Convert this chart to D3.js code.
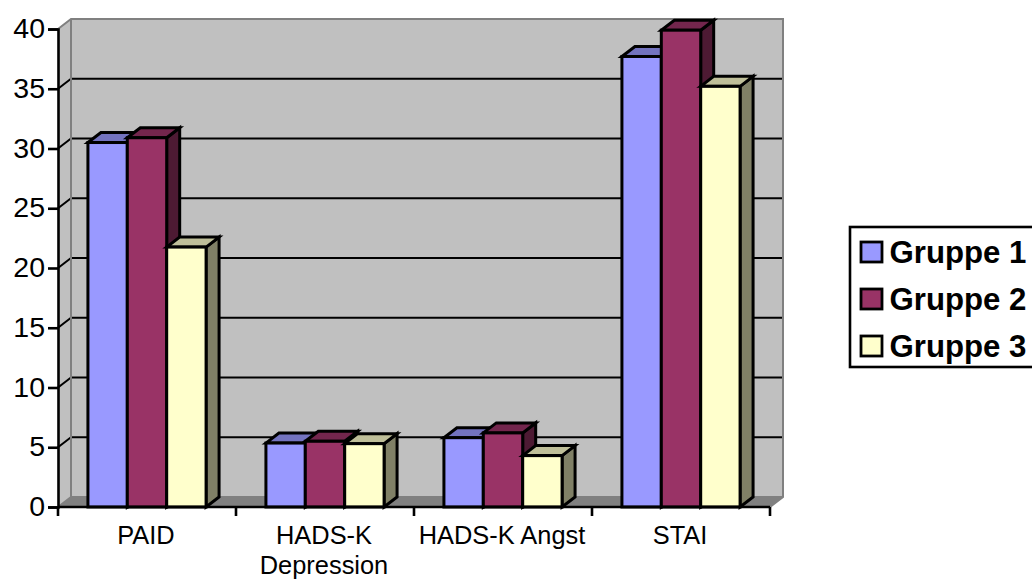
<!DOCTYPE html>
<html>
<head>
<meta charset="utf-8">
<script src="https://cdn.jsdelivr.net/npm/d3@7/dist/d3.min.js"></script>
<style>
html,body{margin:0;padding:0;background:#fff;overflow:hidden}
svg{display:block}
text{font-family:"Liberation Sans",Arial,sans-serif;fill:#000}
</style>
</head>
<body>
<svg id="chart" width="1032" height="579"></svg>
<script>
// Mean scores per questionnaire and group
const categories = ["PAID", "HADS-K Depression", "HADS-K Angst", "STAI"];
const seriesNames = ["Gruppe 1", "Gruppe 2", "Gruppe 3"];
const gruppe1 = [30.5, 5.35, 5.8, 37.7];
const gruppe2 = [30.9, 5.5, 6.2, 39.9];
const gruppe3 = [21.75, 5.3, 4.3, 35.2];
const yTicks = [0, 5, 10, 15, 20, 25, 30, 35, 40];

const faceColors = ["#9999ff", "#993366", "#ffffcc"];
const topColors = ["#7373bf", "#73264d", "#bfbf99"];
const sideColors = ["#4d4d80", "#4d1a33", "#808066"];

const svg = d3.select("#chart");
const depthX = 13, depthY = -10;

const y = d3.scaleLinear().domain([0, 40]).range([507, 29]);
const x0 = d3.scaleBand().domain(categories).range([58, 770]);
const x1 = d3.scaleBand().domain(seriesNames)
  .range([0, x0.bandwidth()]).paddingInner(0).paddingOuter(0.76);
const values = [gruppe1, gruppe2, gruppe3];
const [xL, xR] = x0.range();

const pts = a => a.map(p => p.join(",")).join(" ");

// Chart box: side wall, floor and back wall
svg.append("polygon").attr("points", pts([[xL,y(0)],[xL,y(40)],[xL+depthX,y(40)+depthY],[xL+depthX,y(0)+depthY]]))
  .attr("fill", "#c0c0c0");
svg.append("polygon").attr("points", pts([[xL+depthX,y(40)+depthY],[xR+depthX,y(40)+depthY],[xR+depthX,y(0)+depthY],[xL+depthX,y(0)+depthY]]))
  .attr("fill", "#c0c0c0");
svg.append("polygon").attr("points", pts([[xL,y(0)],[xL+depthX,y(0)+depthY],[xR+depthX,y(0)+depthY],[xR,y(0)]]))
  .attr("fill", "#808080");

// Gridlines run across the back wall and down the side wall
const grid = svg.append("g");
grid.selectAll(".back").data(yTicks.filter(t => t > 0 && t < 40)).join("line")
  .attr("x1", xL + depthX).attr("x2", xR + depthX)
  .attr("y1", d => y(d) + depthY).attr("y2", d => y(d) + depthY)
  .attr("stroke", "#000").attr("stroke-width", 2);
grid.selectAll(".side").data(yTicks.filter(t => t > 0 && t < 40)).join("line")
  .attr("x1", xL).attr("x2", xL + depthX)
  .attr("y1", d => y(d)).attr("y2", d => y(d) + depthY)
  .attr("stroke", "#000").attr("stroke-width", 2);

// Wall outlines
svg.append("path")
  .attr("d", `M${xL},${y(40)}L${xL+depthX},${y(40)+depthY}H${xR+depthX}V${y(0)+depthY}L${xR},${y(0)}M${xL+depthX},${y(40)+depthY}V${y(0)+depthY}L${xL},${y(0)}M${xL+depthX},${y(0)+depthY}H${xR+depthX}`)
  .attr("fill", "none").attr("stroke", "#808080").attr("stroke-width", 2);

// Extruded columns, back to front within each group
const bars = svg.append("g").attr("stroke", "#000").attr("stroke-width", 3).attr("stroke-linejoin", "miter");
categories.forEach((c, ci) => {
  seriesNames.forEach((s, si) => {
    const v = values[si][ci];
    const l = x0(c) + x1(s), r = l + x1.bandwidth(), t = y(v), b = y(0);
    const g = bars.append("g");
    g.append("polygon").attr("points", pts([[r,t],[r+depthX,t+depthY],[r+depthX,b+depthY],[r,b]])).attr("fill", sideColors[si]);
    g.append("polygon").attr("points", pts([[l,t],[l+depthX,t+depthY],[r+depthX,t+depthY],[r,t]])).attr("fill", topColors[si]);
    g.append("rect").attr("x", l).attr("y", t).attr("width", r - l).attr("height", b - t).attr("fill", faceColors[si]);
  });
});

// Value axis
const yAxis = d3.axisLeft(y).tickValues(yTicks).tickSize(10).tickPadding(3);
const yG = svg.append("g").attr("transform", `translate(${xL},0)`).call(yAxis);
yG.selectAll("path").attr("stroke", "#000").attr("stroke-width", 2.6);
yG.selectAll("line").attr("stroke", "#000").attr("stroke-width", 2.6);
yG.selectAll("text").style("font-size", "28.5px").attr("dy", "0.3em");

// Category axis with ticks between groups
const tickXs = d3.range(0, categories.length + 1).map(i => xL + i * x0.bandwidth());
const xLine = svg.append("g").attr("stroke", "#000").attr("stroke-width", 2.6);
xLine.append("line").attr("x1", xL).attr("x2", xR).attr("y1", y(0)).attr("y2", y(0));
xLine.selectAll(".t").data(tickXs).join("line")
  .attr("x1", d => d).attr("x2", d => d).attr("y1", y(0)).attr("y2", y(0) + 9);

const catLabels = svg.append("g").attr("text-anchor", "middle").style("font-size", "25.4px");
categories.forEach(c => {
  const cx = x0(c) + x0.bandwidth() / 2 - 1;
  const lines = c === "HADS-K Depression" ? c.split(" ") : [c];
  const t = catLabels.append("text").attr("x", cx).attr("y", 544);
  lines.forEach((ln, i) => t.append("tspan").attr("x", cx).attr("dy", i ? 29.6 : 0).text(ln));
});

// Legend
const legend = svg.append("g");
legend.append("rect").attr("x", 850).attr("y", 227).attr("width", 190).attr("height", 140)
  .attr("fill", "#fff").attr("stroke", "#000").attr("stroke-width", 2.6);
const legendY = d3.scalePoint().domain(seriesNames).range([252, 346]);
seriesNames.forEach((s, i) => {
  legend.append("rect").attr("x", 861).attr("y", legendY(s) - 10).attr("width", 21).attr("height", 20)
    .attr("fill", faceColors[i]).attr("stroke", "#000").attr("stroke-width", 2.8);
  legend.append("text").attr("x", 889.5).attr("y", legendY(s) + 11)
    .style("font-size", "31.2px").style("font-weight", "bold").text(s);
});
</script>
</body>
</html>
